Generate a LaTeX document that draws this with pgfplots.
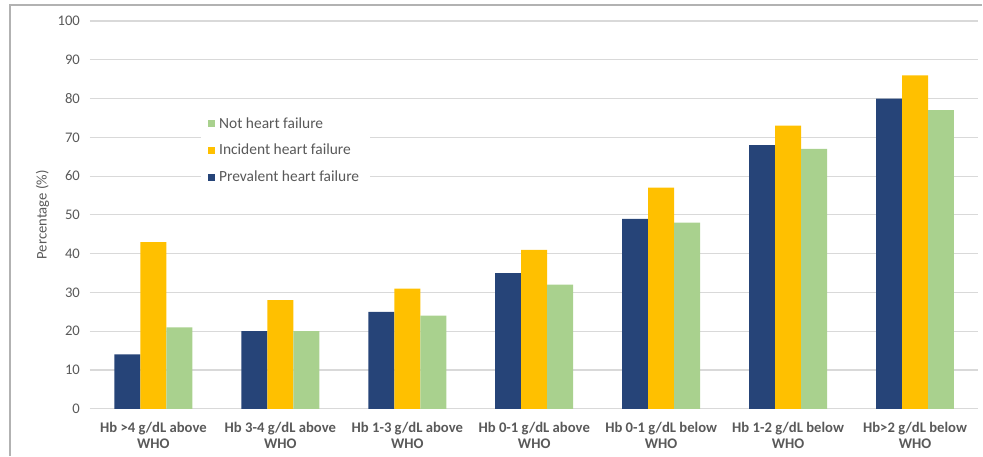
\documentclass[border=0pt]{standalone}
\usepackage{pgfplots}
\pgfplotsset{compat=1.18}
\usepackage{fontspec}
\setmainfont{Carlito}
\definecolor{navy}{HTML}{264478}
\definecolor{gold}{HTML}{FFC000}
\definecolor{sage}{HTML}{A9D18E}
\definecolor{gridgray}{HTML}{D9D9D9}
\definecolor{txtgray}{HTML}{595959}
\begin{document}
\begin{tikzpicture}[x=1pt,y=1pt]
% page extent and frame (axis box lower-left corner at the origin)
\path (-67.5,-35.25) rectangle (669.75,306.75);
\draw[color=gray!60, line width=0.8pt] (-60,-35.25) -- (-60,303) -- (669.75,303);
\begin{axis}[
  scale only axis, width=666.75pt, height=291pt,
  ybar=0pt, bar width=19.5pt,
  xmin=-0.5, xmax=6.5, ymin=0, ymax=100,
  ytick={0,10,...,100},
  xtick={0,...,6},
  xticklabels={{Hb >4 g/dL above\\WHO},{Hb 3-4 g/dL above\\WHO},{Hb 1-3 g/dL above\\WHO},{Hb 0-1 g/dL above\\WHO},{Hb 0-1 g/dL below\\WHO},{Hb 1-2 g/dL below\\WHO},{Hb>2 g/dL below\\WHO}},
  xticklabel style={align=center, font=\bfseries\fontsize{11}{12}\selectfont, text=txtgray, yshift=-2pt},
  yticklabel style={font=\fontsize{11}{12}\selectfont, text=txtgray, xshift=-4pt},
  /pgf/number format/assume math mode=true,
  ymajorgrids, grid style={gridgray, line width=0.8pt},
  axis line style={draw=none},
  axis x line*=bottom,
  x axis line style={draw=gridgray, line width=0.8pt},
  tick style={draw=none},
  ylabel={Percentage (\%)},
  ylabel style={font=\fontsize{11}{12}\selectfont, text=txtgray, yshift=-0.5pt},
  legend cell align=left,
  reverse legend,
  legend style={at={(0.125,0.773)}, anchor=north west, draw=none, fill=white,
    font=\fontsize{11.6}{13}\selectfont, text=txtgray, row sep=6.6pt,
    inner xsep=5pt, inner ysep=4pt,
    nodes={inner xsep=3pt}},
  legend image code/.code={\fill[#1] (0pt,-2.7pt) rectangle (5.4pt,2.7pt);},
]
\addplot[fill=navy, draw=none] coordinates {(0,14) (1,20) (2,25) (3,35) (4,49) (5,68) (6,80)};
\addlegendentry{Prevalent heart failure}
\addplot[fill=gold, draw=none] coordinates {(0,43) (1,28) (2,31) (3,41) (4,57) (5,73) (6,86)};
\addlegendentry{Incident heart failure}
\addplot[fill=sage, draw=none] coordinates {(0,21) (1,20) (2,24) (3,32) (4,48) (5,67) (6,77)};
\addlegendentry{Not heart failure}
\end{axis}
\end{tikzpicture}
\end{document}
